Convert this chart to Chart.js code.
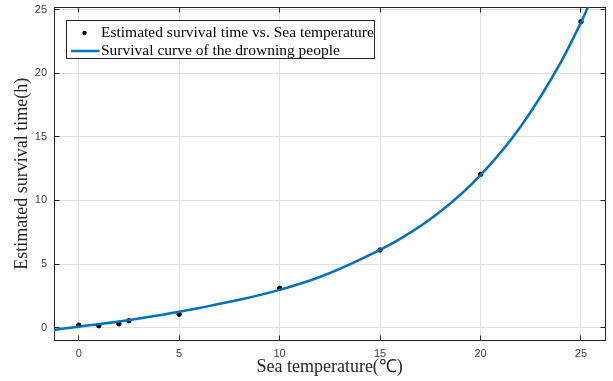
<!DOCTYPE html>
<html>
<head>
<meta charset="utf-8">
<script src="https://cdn.jsdelivr.net/npm/chart.js@4.4.0/dist/chart.umd.min.js"></script>
<style>
    html, body { margin: 0; padding: 0; background: #fff; }
    #wrap { width: 613px; height: 381px; position: relative; }
</style>
</head>
<body>
<div id="wrap"><canvas id="myChart" width="613" height="381"></canvas></div>
<script>
/* measured points */
const seaTemps = [0, 1, 2, 2.5, 5, 10, 15, 20, 25];
const survivalHours = [0.2, 0.15, 0.3, 0.55, 1.05, 3.1, 6.1, 12.05, 24.05];

/* fitted curve */
const curveTemps = [-1.25, 0, 2, 4, 5, 6, 8, 10, 12, 14, 16, 18, 20, 22, 24, 25, 25.5];
const curveHours = [-0.18, 0.08, 0.48, 0.97, 1.25, 1.55, 2.19, 2.97, 3.98, 5.35, 6.98, 9.13, 12.0, 15.82, 20.88, 24.0, 25.74];

const xTickValues = [0, 5, 10, 15, 20, 25];
const yTickValues = [0, 5, 10, 15, 20, 25];

const legendLabels = ['Estimated survival time vs. Sea temperature', 'Survival curve of the drowning people'];
const xTitle = 'Sea temperature(\u2103)';
const yTitle = 'Estimated survival time(h)';

const curveColor = '#0072BD';
const axisColor = '#262626';

const ctx = document.getElementById("myChart");

/* matlab style box with inward ticks */
const boxPlugin = {
    id: 'box',
    beforeDatasetsDraw(chart) {
        const c = chart.ctx;
        const a = chart.chartArea;
        const x = chart.scales.x, y = chart.scales.y;
        const l = Math.floor(a.left) + 0.5, r = Math.floor(a.right) + 0.5;
        const t = Math.floor(a.top) + 0.5, b = Math.floor(a.bottom) + 0.5;
        c.save();
        c.strokeStyle = axisColor;
        c.lineWidth = 1;
        c.strokeRect(l, t, r - l, b - t);
        c.beginPath();
        xTickValues.forEach(v => {
            const px = Math.floor(x.getPixelForValue(v)) + 0.5;
            c.moveTo(px, b); c.lineTo(px, b - 5);
            c.moveTo(px, t); c.lineTo(px, t + 5);
        });
        yTickValues.forEach(v => {
            const py = Math.floor(y.getPixelForValue(v)) + 0.5;
            c.moveTo(l, py); c.lineTo(l + 5, py);
            c.moveTo(r, py); c.lineTo(r - 5, py);
        });
        c.stroke();
        c.restore();
    },
    afterDraw(chart) {
        const c = chart.ctx;
        c.save();
        c.fillStyle = '#fff';
        c.fillRect(67, 21, 308, 38);
        c.strokeStyle = axisColor;
        c.lineWidth = 1;
        c.strokeRect(66.5, 20.5, 308, 38);
        c.fillStyle = '#000';
        c.beginPath();
        c.arc(84.5, 33, 2.2, 0, Math.PI * 2);
        c.fill();
        c.strokeStyle = curveColor;
        c.lineWidth = 2.5;
        c.beginPath();
        c.moveTo(71, 51); c.lineTo(99.5, 51);
        c.stroke();
        c.fillStyle = '#000';
        c.font = '15.5px "Liberation Serif"';
        c.textBaseline = 'middle';
        c.fillText(legendLabels[0], 101, 33);
        c.fillText(legendLabels[1], 101, 51);
        c.restore();
    }
};

var survivalChart = new Chart(ctx, {
    type: 'scatter',
    data: {
        datasets: [
            {
                label: legendLabels[1],
                data: curveTemps.map((t, i) => ({x: t, y: curveHours[i]})),
                showLine: true,
                borderColor: curveColor,
                borderWidth: 2.5,
                pointRadius: 0,
                cubicInterpolationMode: 'monotone',
                order: 0
            },
            {
                label: legendLabels[0],
                data: seaTemps.map((t, i) => ({x: t, y: survivalHours[i]})),
                backgroundColor: '#000',
                borderColor: '#000',
                pointRadius: 2.2,
                order: 1
            }
        ]
    },
    options: {
        responsive: false,
        animation: false,
        layout: {
            padding: {left: 0, right: 7.7, top: 7.5, bottom: 0}
        },
        scales: {
            x: {
                type: 'linear',
                min: -1.23,
                max: 26.21,
                afterBuildTicks: s => { s.ticks = xTickValues.map(v => ({value: v})); },
                afterFit: s => { s.height = 41; s.paddingLeft = 0; s.paddingRight = 0; },
                ticks: {
                    includeBounds: false,
                    padding: 7,
                    color: '#404040',
                    font: {family: 'Liberation Sans', size: 11}
                },
                grid: {color: '#e0e0e0', drawTicks: false},
                border: {display: false},
                title: {
                    display: true,
                    text: xTitle,
                    color: '#262626',
                    font: {family: 'Liberation Serif', size: 18},
                    padding: {top: 0, bottom: 3}
                }
            },
            y: {
                type: 'linear',
                min: -0.97,
                max: 25.17,
                afterBuildTicks: s => { s.ticks = yTickValues.map(v => ({value: v})); },
                afterFit: s => { s.width = 54; s.paddingTop = 0; s.paddingBottom = 0; },
                ticks: {
                    includeBounds: false,
                    padding: 7,
                    color: '#404040',
                    font: {family: 'Liberation Sans', size: 11}
                },
                grid: {color: '#e0e0e0', drawTicks: false},
                border: {display: false},
                title: {
                    display: true,
                    text: yTitle,
                    color: '#262626',
                    font: {family: 'Liberation Serif', size: 18},
                    padding: {top: 11, bottom: 0}
                }
            }
        },
        plugins: {
            legend: {display: false},
            tooltip: {enabled: false}
        }
    },
    plugins: [boxPlugin]
});
</script>
</body>
</html>
